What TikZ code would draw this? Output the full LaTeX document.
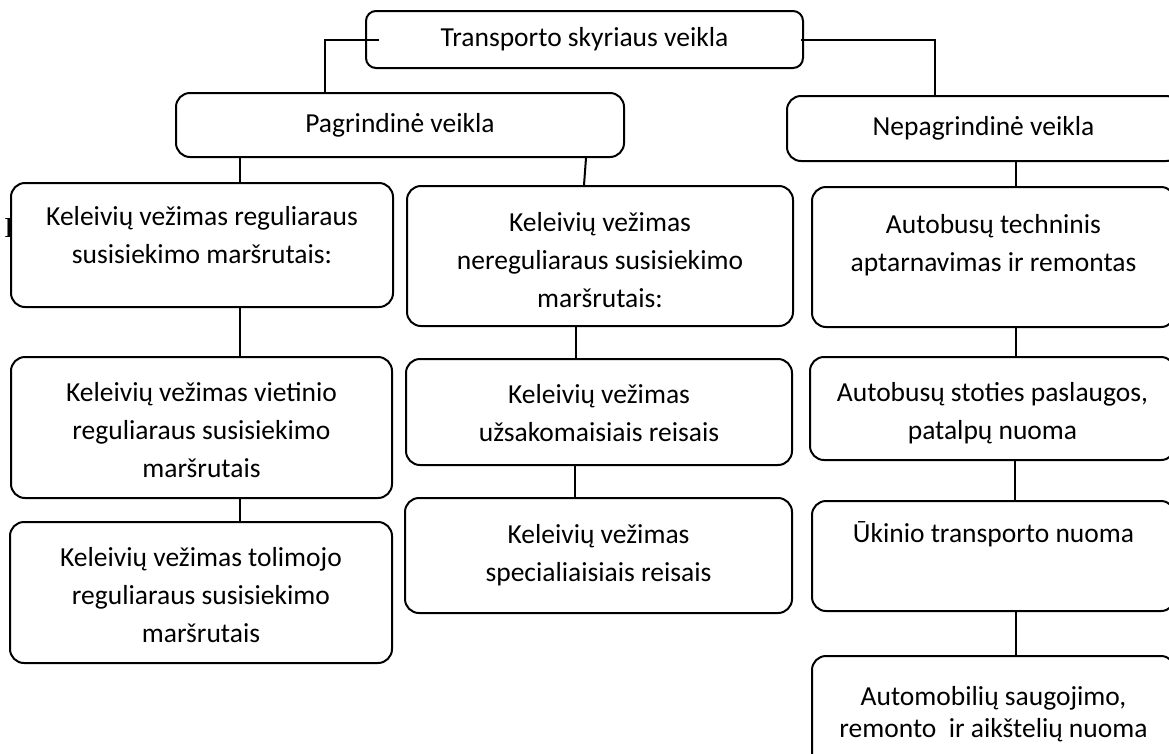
\documentclass[tikz,border=0pt]{standalone}
\usepackage{fontspec}
\setmainfont{Carlito}
\newfontfamily\timesfont{Liberation Serif}
\usetikzlibrary{positioning}

\begin{document}
\begin{tikzpicture}[x=1pt, y=-1pt, line width=2pt,
    every node/.style={font=\fontsize{27.5}{38}\selectfont},
    box/.style={draw, rounded corners=14pt, fill=white, inner sep=0pt},
    lbl/.style={align=center, inner sep=0pt}]
  \useasboundingbox (0,0) rectangle (1169,753);

  \node[font=\timesfont\fontsize{29}{34}\selectfont] (stray) at (9,228) {I};

  % top
  \node[box, rounded corners=10pt, minimum width=437pt, minimum height=57pt] (top) at (584.5,39.5) {Transporto skyriaus veikla};
  \node[box, minimum width=448pt, minimum height=64pt] (pag) at (400,125) {Pagrindinė veikla};
  \node[box, minimum width=393pt, minimum height=65pt] (nep) at (983.5,128.5) {Nepagrindinė veikla};

  % pagrindine
  \node[box, minimum width=382pt, minimum height=124pt] (L1) at (202,245) {};
  \node[box, minimum width=381pt, minimum height=141pt] (L2) at (201.5,427.5) {};
  \node[box, minimum width=382pt, minimum height=141pt] (L3) at (201,592.5) {};
  \node[box, minimum width=386pt, minimum height=140pt] (M1) at (600,256) {};
  \node[box, minimum width=386pt, minimum height=106pt] (M2) at (599,412) {};
  \node[box, minimum width=387pt, minimum height=115pt] (M3) at (598.5,555.5) {};

  % nepagrindine
  \node[box, minimum width=363pt, minimum height=140pt] (R1) at (993.5,257) {};
  \node[box, minimum width=365pt, minimum height=103pt] (R2) at (992.5,408.5) {};
  \node[box, minimum width=363pt, minimum height=110pt] (R3) at (993.5,556) {};
  \node[box, minimum width=363pt, minimum height=134pt] (R4) at (993.5,723) {};

  \node[lbl, below=16pt of L1.north] (L1t) {\strut Keleivių vežimas reguliaraus\\ susisiekimo maršrutais:};
  \node[lbl, below=18pt of L2.north] (L2t) {\strut Keleivių vežimas vietinio\\ reguliaraus susisiekimo\\ maršrutais};
  \node[lbl, below=18pt of L3.north] (L3t) {\strut Keleivių vežimas tolimojo\\ reguliaraus susisiekimo\\ maršrutais};
  \node[lbl, below=19pt of M1.north] (M1t) {\strut Keleivių vežimas\\ nereguliaraus susisiekimo\\ maršrutais:};
  \node[lbl, below=18pt of M2.north] (M2t) {\strut Keleivių vežimas\\ užsakomaisiais reisais};
  \node[lbl, below=19pt of M3.north] (M3t) {\strut Keleivių vežimas\\ specialiaisiais reisais};
  \node[lbl, below=20pt of R1.north] (R1t) {\strut Autobusų techninis\\ aptarnavimas ir remontas};
  \node[lbl, below=18pt of R2.north] (R2t) {\strut Autobusų stoties paslaugos,\\ patalpų nuoma};
  \node[lbl, below=15pt of R3.north] (R3t) {\strut Ūkinio transporto nuoma};
  \node[lbl, below=27pt of R4.north, font=\fontsize{27.5}{32}\selectfont] (R4t) {\strut Automobilių saugojimo,\\ remonto\ \ ir aikštelių nuoma};

  % connectors
  \draw ([xshift=14pt]top.west) -| ([xshift=-75pt]pag.north);
  \draw ([xshift=-3pt]top.east) -| ([xshift=-48.5pt]nep.north);
  \draw ([xshift=38pt]L1.north |- pag.south) -- ([xshift=38pt]L1.north);
  \draw ([xshift=186pt]pag.south) -- ([xshift=-16pt]M1.north);
  \draw ([xshift=22.5pt]R1.north |- nep.south) -- ([xshift=22.5pt]R1.north);
  \foreach \a/\b in {L1/L2, L2/L3}
    \draw ([xshift=38pt]\a.south) -- ([xshift=38pt]\a.south |- \b.north);
  \foreach \a/\b in {M1/M2, M2/M3}
    \draw ([xshift=-24pt]\a.south) -- ([xshift=-24pt]\a.south |- \b.north);
  \foreach \a/\b in {R1/R2, R2/R3, R3/R4}
    \draw ([xshift=22.5pt]\a.south) -- ([xshift=22.5pt]\a.south |- \b.north);
\end{tikzpicture}
\end{document}
